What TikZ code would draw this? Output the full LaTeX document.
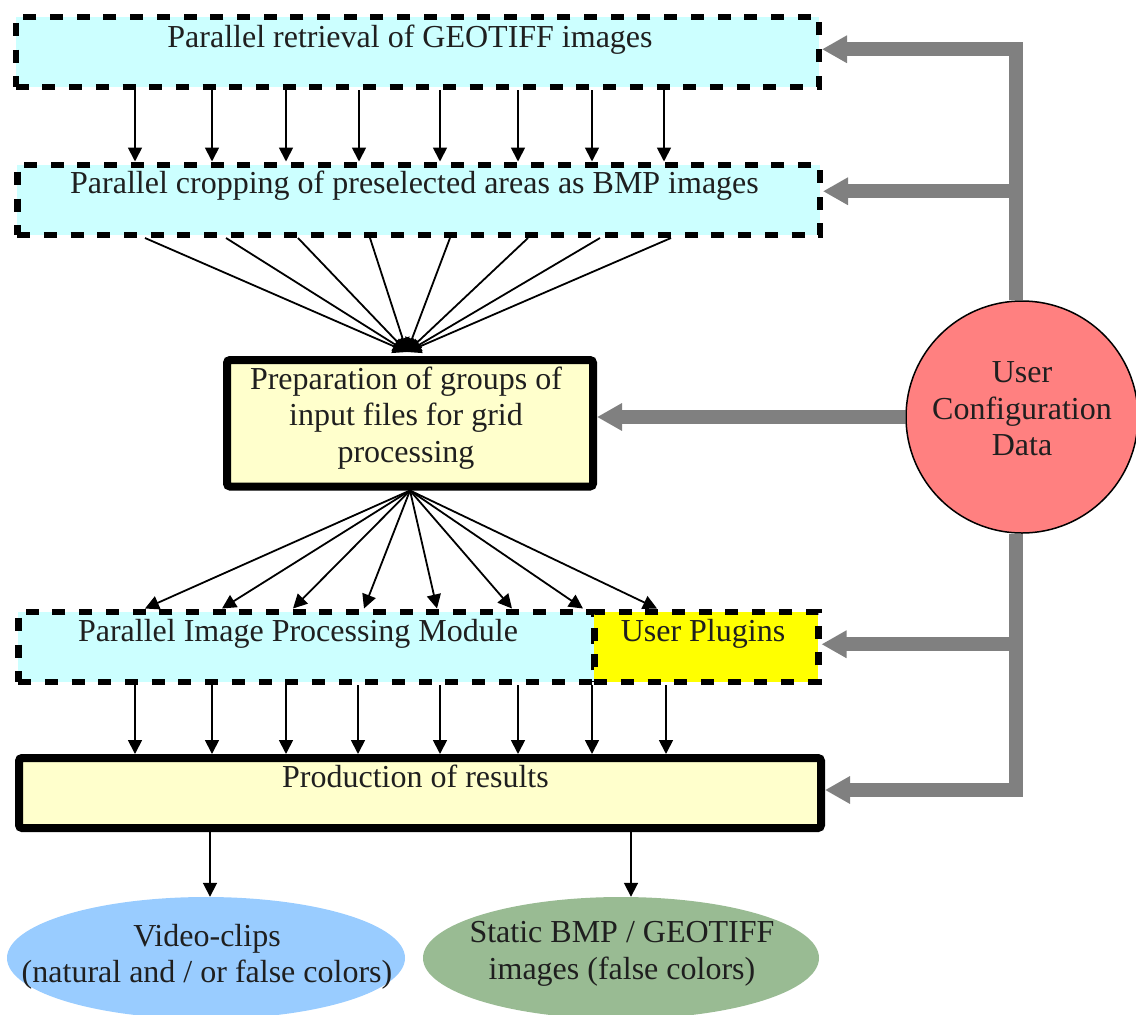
\documentclass[tikz,border=0pt]{standalone}
\usepackage{fontspec}
\setmainfont{Liberation Serif}
\usetikzlibrary{arrows.meta,shapes.geometric}
\definecolor{cyanbg}{HTML}{CCFFFF}
\definecolor{yellowbg}{HTML}{FFFFCC}
\definecolor{plugc}{HTML}{FFFF00}
\definecolor{ucdc}{HTML}{FF8080}
\definecolor{vidc}{HTML}{99CCFF}
\definecolor{statc}{HTML}{99BB93}
\definecolor{garrowc}{HTML}{808080}
\begin{document}
\begin{tikzpicture}[x=1pt,y=-1pt,
  fs/.style={font=\fontsize{32}{36.5}\selectfont},
  dbox/.style={draw=black, line width=6.5pt, dash pattern=on 13pt off 13.7pt, fill=cyanbg, inner sep=0pt, anchor=north west},
  sbox/.style={draw=black, line width=8pt, rounded corners=3pt, fill=yellowbg, inner sep=0pt, anchor=north west},
  txt/.style={fs, inner sep=0pt, text=black!88},
  arr/.style={line width=1.8pt, -{Triangle[length=14pt,width=14pt]}},
  garr/.style={draw=garrowc, line width=14pt, -{Triangle[length=25pt,width=26pt]}},
]
\useasboundingbox (0,0) rectangle (1136,1015);

% boxes
\node[dbox, minimum width=803pt, minimum height=70pt] (box1) at (12.5,13.5) {};
\node[dbox, minimum width=802.5pt, minimum height=70pt] (box2) at (14,161.5) {};
\node[sbox, minimum width=366pt, minimum height=126.5pt] (prep) at (223,356) {};
\node[dbox, minimum width=576pt, minimum height=70pt] (pipm) at (15,608.5) {};
\node[dbox, fill=plugc, minimum width=224pt, minimum height=70pt] (plug) at (591,608.5) {};
\node[sbox, minimum width=802pt, minimum height=70pt] (res) at (15,754) {};
\node[circle, draw=black, line width=1.5pt, fill=ucdc, minimum size=232pt, inner sep=0pt] (ucd) at (1022,417) {};
\node[ellipse, fill=vidc, minimum width=398pt, minimum height=122pt, inner sep=0pt] (vid) at (206,958) {};
\node[ellipse, fill=statc, minimum width=396pt, minimum height=122pt, inner sep=0pt] (stat) at (621,958) {};

% texts
\node[txt, anchor=base] (t1) at (410,47) {Parallel retrieval of GEOTIFF images};
\node[txt, anchor=base] (t2) at (414.5,193) {Parallel cropping of preselected areas as BMP images};
\node[txt, align=center] (t3) at (406,418) {Preparation of groups of\\input files for grid\\processing};
\node[txt, anchor=base] (t4) at (298,641) {Parallel Image Processing Module};
\node[txt, anchor=base] (t5) at (703,641) {User Plugins};
\node[txt, anchor=base] (t6) at (415.5,787) {Production of results};
\node[txt, align=center] (t7) at (1022,409) {User\\Configuration\\Data};
\node[txt, align=center] (t8) at (207,957) {Video-clips\\(natural and / or false colors)};
\node[txt, align=center] (t9) at (622,954) {Static BMP / GEOTIFF\\images (false colors)};

% parallel arrows box1 -> box2
\foreach \x in {135,212,286,359,440,518,592,664}
  \draw[arr] (box1.south -| \x,0) -- (box2.north -| \x,0);

% fan in box2 -> prep
\foreach \x in {145,226,298,370,450,528,600,671}
  \draw[arr] (box2.south -| \x,0) -- ([xshift=-3pt,yshift=4pt]prep.north);

% fan out prep -> pipm / plug
\foreach \x in {145,222,293,364,437,512,583}
  \draw[arr] (prep.south) -- (pipm.north -| \x,0);
\draw[arr] (prep.south) -- (plug.north -| 657,0);

% parallel arrows pipm/plug -> res
\foreach \x in {135,212,286,358,440,518}
  \draw[arr] (pipm.south -| \x,0) -- (res.north -| \x,0);
\foreach \x in {592,666}
  \draw[arr] (plug.south -| \x,0) -- (res.north -| \x,0);

% results -> outputs
\draw[arr] (res.south -| 210,0) -- (vid.north -| 210,0);
\draw[arr] (res.south -| 631,0) -- (stat.north -| 631,0);

% gray configuration arrows
\draw[garr] ([xshift=-6pt]ucd.north) |- ([yshift=2.5pt]box1.east);
\draw[garr] ([xshift=-6pt]ucd.north) |- ([yshift=8.5pt]box2.east);
\draw[garr] (ucd.west) -- (ucd.west -| prep.east);
\draw[garr] ([xshift=-6pt]ucd.south) |- ([yshift=2.5pt]plug.east);
\draw[garr] ([xshift=-6pt]ucd.south) |- ([yshift=3pt]res.east);
\end{tikzpicture}
\end{document}
